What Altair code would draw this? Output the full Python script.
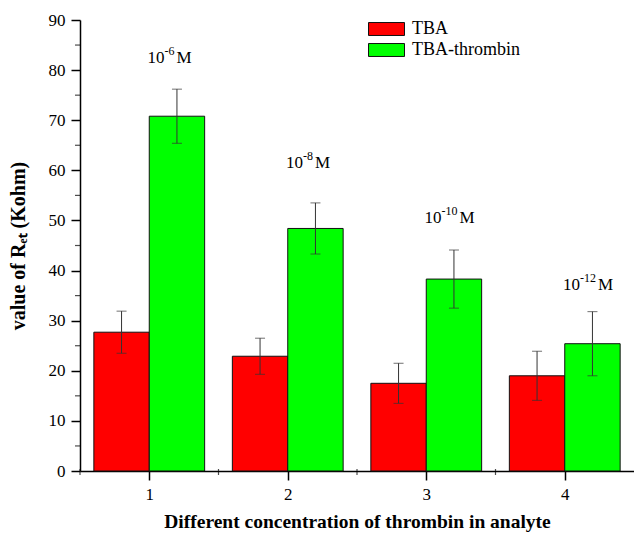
import altair as alt
import pandas as pd

categories = [1, 2, 3, 4]
tba = [27.7, 22.9, 17.5, 19.0]
tba_err = [4.2, 3.6, 4.0, 4.9]
thrombin = [70.8, 48.4, 38.3, 25.4]
thrombin_err = [5.4, 5.1, 5.8, 6.4]
conc_base = ["10", "10", "10", "10"]
conc_sup = ["-6", "-8", "-10", "-12"]
conc_unit = ["M", "M", "M", "M"]
conc_label_y = [82.5, 61.5, 50.5, 37.1]
y_minor = [5, 15, 25, 35, 45, 55, 65, 75, 85]
x_minor = [0.5, 1.5, 2.5, 3.5]
series_names = ["TBA", "TBA-thrombin"]

FONT = "Liberation Serif"
PX_PER_UNIT = 554 / 4.0

rows = []
for c, v, e in zip(categories, tba, tba_err):
    rows.append({"cat": c, "series": series_names[0], "val": v, "err": e, "side": -1})
for c, v, e in zip(categories, thrombin, thrombin_err):
    rows.append({"cat": c, "series": series_names[1], "val": v, "err": e, "side": 1})
df = pd.DataFrame(rows)

ann = pd.DataFrame({"cat": categories, "b": conc_base, "s": conc_sup,
                    "u": conc_unit, "ly": conc_label_y})

xscale = alt.Scale(domain=[0.5, 4.5], nice=False, zero=False)
yscale = alt.Scale(domain=[0, 90], nice=False)

base = alt.Chart(df).transform_calculate(
    x0="datum.side < 0 ? datum.cat - 0.4 : datum.cat",
    x1="datum.side < 0 ? datum.cat : datum.cat + 0.4",
    xc="datum.cat + datum.side * 0.2",
    lo="datum.val - datum.err",
    hi="datum.val + datum.err",
)

bars = base.mark_bar(stroke="#111111", strokeWidth=1, opacity=1).encode(
    x=alt.X("x0:Q", scale=xscale,
            axis=alt.Axis(values=categories, format="d",
                          title="Different concentration of thrombin in analyte",
                          titlePadding=10, labelPadding=6)),
    x2="x1:Q",
    y=alt.Y("val:Q", scale=yscale,
            axis=alt.Axis(values=list(range(0, 91, 10)),
                          title="value of Rₑₜ (Kohm)", titlePadding=20, labelPadding=6)),
    y2=alt.datum(0),
    color=alt.Color("series:N",
                    scale=alt.Scale(domain=series_names, range=["#ff0000", "#00ff00"]),
                    legend=alt.Legend(title=None, orient="none", legendX=297, legendY=-0.5,
                                      symbolType="M-2,-0.72H2V0.72H-2Z", symbolSize=324,
                                      symbolStrokeColor="#111111", symbolStrokeWidth=1,
                                      symbolOpacity=1,
                                      labelOffset=16, rowPadding=2, padding=0)),
)

err_rule = base.mark_rule(color="#333333", strokeWidth=1).encode(
    x="xc:Q", y="lo:Q", y2="hi:Q"
)
cap_hi = base.mark_tick(orient="horizontal", size=10, thickness=1, color="#333333").encode(
    x="xc:Q", y="hi:Q"
)
cap_lo = base.mark_tick(orient="horizontal", size=10, thickness=1, color="#333333").encode(
    x="xc:Q", y="lo:Q"
)

annb = alt.Chart(ann).transform_calculate(
    lx="datum.cat + 0.11",
    ux=f"datum.cat + 0.11 + (length(datum.s) * 6) / {PX_PER_UNIT}",
)
t_base = annb.mark_text(font=FONT, fontSize=17, color="black", baseline="middle",
                        align="right").encode(x="lx:Q", y="ly:Q", text="b:N")
t_sup = annb.mark_text(font=FONT, fontSize=12, color="black", baseline="middle",
                       align="left", dy=-7).encode(x="lx:Q", y="ly:Q", text="s:N")
t_unit = annb.mark_text(font=FONT, fontSize=17, color="black", baseline="middle",
                        align="left").encode(x="ux:Q", y="ly:Q", text="u:N")

ymin = alt.Chart(pd.DataFrame({"v": y_minor})).mark_tick(
    orient="horizontal", size=5, thickness=1.2, color="black", xOffset=-2.5
).encode(y="v:Q", x=alt.datum(0.5))

xmin = alt.Chart(pd.DataFrame({"v": x_minor})).mark_tick(
    orient="vertical", size=6, thickness=1.2, color="black", yOffset=1
).encode(x="v:Q", y=alt.datum(0))

chart = alt.layer(bars, err_rule, cap_hi, cap_lo, t_base, t_sup, t_unit, ymin, xmin).properties(
    width=554, height=451,
    autosize=alt.AutoSizeParams(type="none"),
    padding={"left": 80, "top": 20, "right": 0, "bottom": 63},
    background="white",
).configure(font=FONT).configure_view(stroke=None).configure_axis(
    grid=False, tickSize=9, tickWidth=1.5, domainWidth=1.5,
    domainColor="black", tickColor="black",
    labelFont=FONT, labelFontSize=17, labelColor="black",
    titleFont=FONT, titleFontWeight="bold", titleColor="black",
).configure_axisX(titleFontSize=19.5).configure_axisY(titleFontSize=20).configure_legend(
    labelFont=FONT, labelFontSize=18, labelColor="black")

chart.save("out.html", embed_options={"renderer": "svg", "actions": False})
